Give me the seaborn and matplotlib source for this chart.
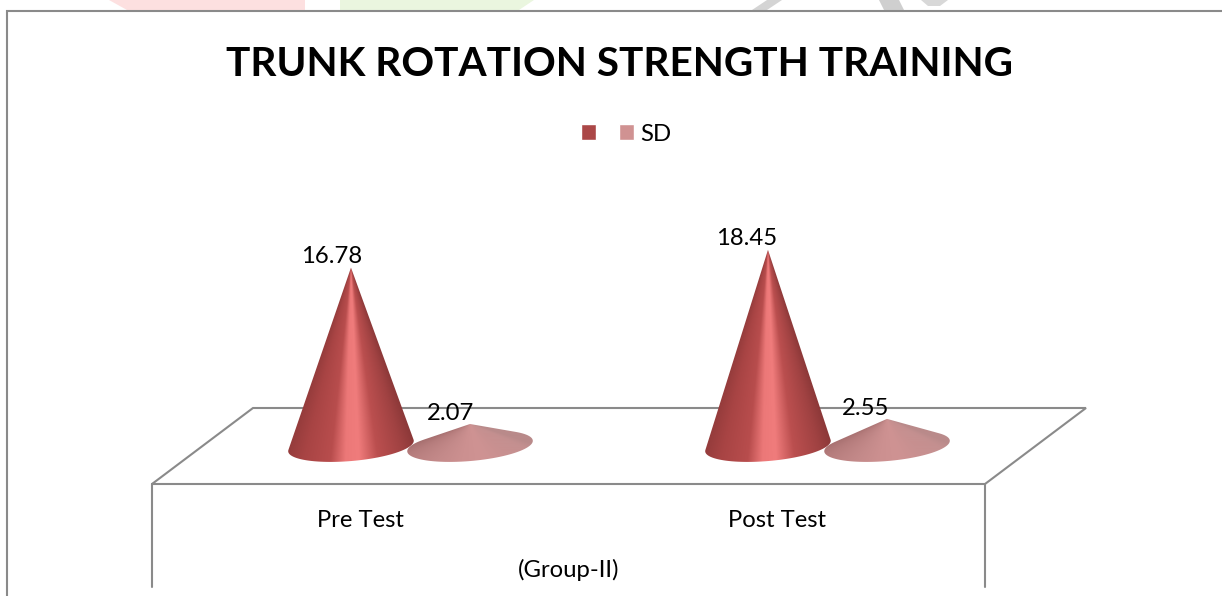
import numpy as np
import pandas as pd
import matplotlib
matplotlib.use('Agg')
import matplotlib.pyplot as plt
import seaborn as sns
from matplotlib.lines import Line2D
from matplotlib.patches import Polygon
from matplotlib.path import Path
from matplotlib.transforms import Affine2D, ScaledTranslation
from matplotlib.colors import to_rgb

# Datos
categorias = ['Pre Test', 'Post Test']
valores_media = [16.78, 18.45]
valores_sd = [2.07, 2.55]
series = [' ', 'SD']
etiquetas = ['16.78', '18.45', '2.07', '2.55']
titulo = 'TRUNK ROTATION STRENGTH TRAINING'
grupo = '(Group-II)'

ANCHO, ALTO = 1222, 596
GRIS = '#8a8a8a'
LETRA = 17.2

sns.set_theme(style='white')
plt.rcParams['font.family'] = ['Lato', 'DejaVu Sans']

tabla = pd.DataFrame({
    'categoria': categorias * 2,
    'serie': [series[0]] * 2 + [series[1]] * 2,
    'valor': valores_media + valores_sd,
})

fig = plt.figure(figsize=(ANCHO / 100, ALTO / 100), dpi=100)
fig.patch.set_facecolor('white')

# Coordenadas en pixeles de la imagen (origen arriba a la izquierda).
px = Affine2D().scale(1 / ANCHO, -1 / ALTO).translate(0, 1) + fig.transFigure

# Ejes: de x=152 a 985 y de y=200 a 484 en pixeles.
ax = fig.add_axes([152 / ANCHO, 1 - 484 / ALTO, 833 / ANCHO, 284 / ALTO])
ax.patch.set_visible(False)

sns.barplot(data=tabla, x='categoria', y='valor', hue='serie', ax=ax,
            palette=['#ab4747', '#d09292'], width=0.571, gap=0,
            order=categorias, hue_order=series, saturation=1)

ax.set_xlim((152 - 410.5) / 417, (985 - 410.5) / 417)
ax.set_ylim((446 - 484) / 10.63, (446 - 200) / 10.63)
ax.set_ylabel('')
ax.set_yticks([])
sns.despine(ax=ax, left=True, bottom=True)

# Leyenda arriba, centrada.
sns.move_legend(ax, 'center', bbox_to_anchor=(626 / ANCHO, 1 - 134 / ALTO),
                bbox_transform=fig.transFigure, ncol=2, title=None,
                frameon=False, fontsize=LETRA, handlelength=0.63,
                handleheight=0.63, handletextpad=0.25, columnspacing=0.45,
                labelcolor='black')

# Etiquetas del eje, desplazadas como en la perspectiva del original.
ax.set_xticks([0, 1], categorias, fontsize=LETRA, color='black')
ax.tick_params(axis='x', length=0, pad=18.5)
for etiqueta in ax.get_xticklabels():
    etiqueta.set_transform(etiqueta.get_transform() +
                           ScaledTranslation(-50.5 / 100, 0, fig.dpi_scale_trans))
ax.set_xlabel(grupo, fontsize=LETRA, color='black', labelpad=20.5)

fig.text(620 / ANCHO, 1 - 64 / ALTO, titulo, fontsize=29.2, fontweight='bold',
         color='black', ha='center', va='center')


# Conos sobre las barras de seaborn.
def dibuja_cono(barra, claro):
    cx = barra.get_x() + barra.get_width() / 2
    h = barra.get_height()

    # Paso a pixeles para construir el contorno.
    a_px = ax.transData + px.inverted()
    centro = a_px.transform((cx, 0))
    punta = a_px.transform((cx, h))
    a, b, giro = 63.0, 15.0, np.radians(-5)
    elipse = Affine2D().scale(a, b).rotate(giro).translate(*centro)

    # Contorno: la punta y el arco de la base entre las dos tangentes.
    p = elipse.inverted().transform(punta)
    rho, theta = np.hypot(*p), np.arctan2(p[1], p[0])
    delta = np.arccos(1 / rho)
    t = np.linspace(theta + delta, theta + 2 * np.pi - delta, 120)
    arco = elipse.transform(np.column_stack([np.cos(t), np.sin(t)]))
    contorno = np.vstack([punta, arco, punta])

    # Degradado que converge en la punta.
    x0, x1 = centro[0] - 70, centro[0] + 70
    y0, y1 = punta[1] - 1, centro[1] + 20
    xx, yy = np.meshgrid(np.linspace(x0, x1, 280),
                         np.linspace(y0, y1, max(int((y1 - y0) * 2), 4)))
    medio = np.maximum((yy - punta[1]) / (centro[1] - punta[1]), 0.01)
    u = (xx - centro[0]) / (a * medio)
    paradas = [-1.1, -0.7, -0.3, -0.08, 0.12, 0.4, 0.8, 1.1]
    if claro:
        colores = ['#a06a6a', '#b57c7c', '#c48a8a', '#cc9090', '#cf9393',
                   '#c89090', '#c49090', '#b98a8a']
    else:
        colores = ['#8c3838', '#a84444', '#b84d4d', '#ec7878', '#f07c7c',
                   '#bb4f4f', '#a04242', '#853535']
    rgb = np.array([to_rgb(c) for c in colores])
    imagen = np.dstack([np.interp(u, paradas, rgb[:, k]) for k in range(3)])

    # extent en datos
    inv = a_px.inverted()
    d0 = inv.transform((x0, y1))
    d1 = inv.transform((x1, y0))
    im = ax.imshow(imagen, extent=(d0[0], d1[0], d0[1], d1[1]), origin='upper',
                   aspect='auto', zorder=3, interpolation='bilinear')
    im.set_clip_path(Path(contorno), transform=px)


barras = [b for b in ax.patches if b.get_height() > 0]
limites = ax.get_xlim(), ax.get_ylim()
desplazamientos = [(-19, 11), (-21, 11), (-19, 10), (-21, 10)]
for barra, etiqueta, (dx, dy) in zip(barras, etiquetas, desplazamientos):
    barra.set_visible(False)
    dibuja_cono(barra, barra.get_height() < 5)
    cx = barra.get_x() + barra.get_width() / 2
    ax.annotate(etiqueta, (cx, barra.get_height()),
                xytext=(dx * 0.72, dy * 0.72), textcoords='offset points',
                ha='center', va='center', fontsize=LETRA, color='black',
                zorder=5, annotation_clip=False)
ax.set_xlim(limites[0])
ax.set_ylim(limites[1])

# Piso en perspectiva y marco, por debajo de los ejes.
trazos = [
    ([152, 253, 1086, 985, 152], [484, 408, 408, 484, 484]),
    ([152, 152], [484, 587]),
    ([985, 985], [484, 587]),
    ([7, 7, ANCHO], [ALTO, 11, 11]),
]
for xs, ys in trazos:
    fig.add_artist(Line2D(xs, ys, transform=px, color=GRIS, lw=1.5, zorder=-1,
                          solid_joinstyle='miter'))

# Restos de la marca de agua sobre el marco.
restos = [
    ([109, 127, 305, 305], [0, 10, 10, 0], '#fde0e0'),
    ([340, 340, 519, 534], [0, 10, 10, 0], '#eaf6df'),
    ([767, 752, 767, 782], [0, 10, 10, 0], '#d4d4d4'),
    ([879, 884, 904, 899], [0, 10, 10, 0], '#cfcfcf'),
    ([921, 928, 940, 948], [0, 6, 6, 0], '#d8d8d8'),
]
for xs, ys, color in restos:
    fig.add_artist(Polygon(np.column_stack([xs, ys]), closed=True, transform=px,
                           facecolor=color, edgecolor='none', zorder=-2))

fig.savefig('out.png', dpi=100)
